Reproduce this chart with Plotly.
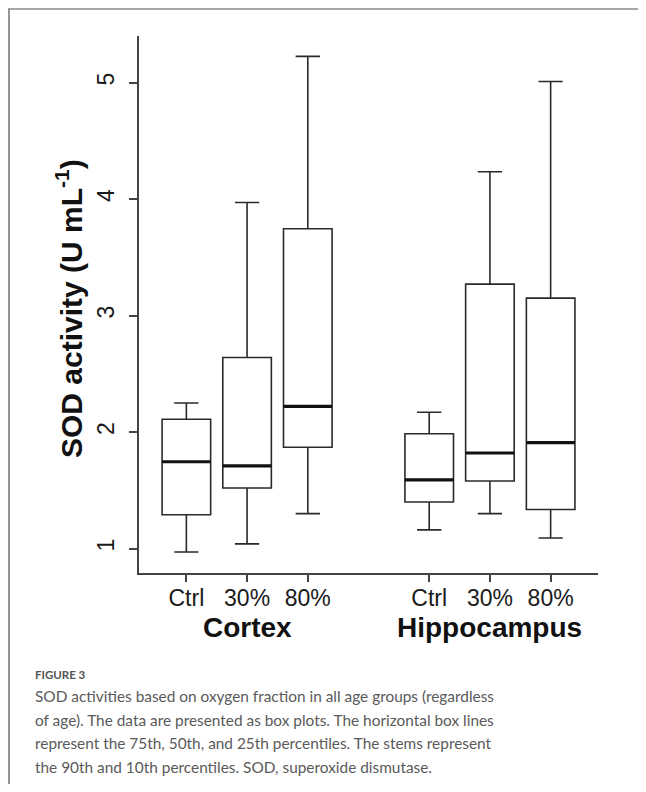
import plotly.graph_objects as go

# ---- data ----
regions = ["Cortex", "Hippocampus"]
groups = ["Ctrl", "30%", "80%"]
p10 = [0.97, 1.04, 1.30, 1.16, 1.30, 1.09]
q1 = [1.29, 1.52, 1.87, 1.40, 1.58, 1.335]
median = [1.745, 1.71, 2.22, 1.59, 1.82, 1.91]
q3 = [2.11, 2.64, 3.745, 1.985, 3.27, 3.15]
p90 = [2.25, 3.97, 5.225, 2.17, 4.235, 5.01]
y_ticks = [1, 2, 3, 4, 5]

# category slots: 3 boxes per region with one empty slot between regions
positions = [r * (len(groups) + 1) + g + 1 for r in range(len(regions)) for g in range(len(groups))]
tick_text = [g for _ in regions for g in groups]
region_centers = [r * (len(groups) + 1) + (len(groups) + 1) / 2 for r in range(len(regions))]

BOXW = 0.8
OFF = 8  # page body margin
W, H = 646 - 2 * OFF, 792 - 2 * OFF
ML, MR, MT, MB = 139 - OFF, 646 - 598 - OFF, 36 - OFF, 792 - 573 - OFF
PW, PH = W - ML - MR, H - MT - MB


def px_x(px):  # screen pixel -> paper
    return (px - OFF - ML) / PW


def px_y(py):
    return (H - MB - (py - OFF)) / PH


fig = go.Figure()
fig.add_trace(go.Box(
    x=positions, q1=q1, median=median, q3=q3,
    lowerfence=p10, upperfence=p90,
    width=BOXW, whiskerwidth=0.5,
    fillcolor="white", line=dict(color="#2a2a2a", width=1.6),
    boxpoints=False, showlegend=False, hoverinfo="skip",
))

mx, my = [], []
for p, m in zip(positions, median):
    mx += [p - BOXW / 2, p + BOXW / 2, None]
    my += [m, m, None]
fig.add_trace(go.Scatter(x=mx, y=my, mode="lines",
                         line=dict(color="#111111", width=3.2),
                         showlegend=False, hoverinfo="skip"))

AX = "#444444"
fig.update_xaxes(range=[0.22, 7.78], tickvals=positions, ticktext=tick_text,
                 showline=True, linecolor=AX, linewidth=1.5, mirror=False,
                 ticks="outside", ticklen=7, tickwidth=1.5, tickcolor=AX,
                 showgrid=False, zeroline=False, ticklabelstandoff=-3,
                 tickfont=dict(family="Liberation Sans, Arial", size=23, color="#1a1a1a"))
fig.update_yaxes(range=[0.79, 5.40], tickvals=y_ticks,
                 showline=True, linecolor=AX, linewidth=1.5, mirror=False,
                 ticks="outside", ticklen=8, tickwidth=1.5, tickcolor=AX,
                 showgrid=False, zeroline=False, tickangle=-90, ticklabelstandoff=6,
                 tickfont=dict(family="Liberation Sans, Arial", size=23, color="#1a1a1a"))

annotations = []
for name, cx in zip(regions, region_centers):
    annotations.append(dict(text="<b>%s</b>" % name, x=cx, xref="x", y=px_y(627), yref="paper",
                            xanchor="center", yanchor="middle", showarrow=False,
                            font=dict(family="Liberation Sans, Arial", size=28, color="#111111")))
annotations.append(dict(text="<b>SOD activity (U mL<sup>-1</sup>)</b>", x=px_x(69), xref="paper",
                        y=px_y(309), yref="paper", textangle=-90, xanchor="center", yanchor="middle",
                        showarrow=False,
                        font=dict(family="Liberation Sans, Arial", size=30, color="#111111")))
annotations.append(dict(text="FIGURE 3", x=px_x(33), xref="paper", y=px_y(674), yref="paper",
                        xanchor="left", yanchor="middle", showarrow=False,
                        font=dict(family="Lato", size=11.5, color="#555555", weight=700)))
caption = [
    "SOD activities based on oxygen fraction in all age groups (regardless",
    "of age). The data are presented as box plots. The horizontal box lines",
    "represent the 75th, 50th, and 25th percentiles. The stems represent",
    "the 90th and 10th percentiles. SOD, superoxide dismutase.",
]
for line, cy in zip(caption, [696, 720, 743, 767]):
    annotations.append(dict(text=line, x=px_x(33), xref="paper", y=px_y(cy), yref="paper",
                            xanchor="left", yanchor="middle", showarrow=False,
                            font=dict(family="Lato", size=15.4, color="#5a5a5a")))

FR = "#8a8a8a"
shapes = [
    dict(type="line", xref="paper", yref="paper", x0=px_x(8), x1=px_x(646), y0=px_y(9), y1=px_y(9),
         line=dict(color=FR, width=1.5)),
    dict(type="line", xref="paper", yref="paper", x0=px_x(9), x1=px_x(9), y0=px_y(9), y1=px_y(784),
         line=dict(color=FR, width=1.8)),
]

fig.update_layout(width=W, height=H, margin=dict(l=ML, r=MR, t=MT, b=MB),
                  paper_bgcolor="white", plot_bgcolor="white",
                  annotations=annotations, shapes=shapes, showlegend=False)

fig.write_html("out.html")
